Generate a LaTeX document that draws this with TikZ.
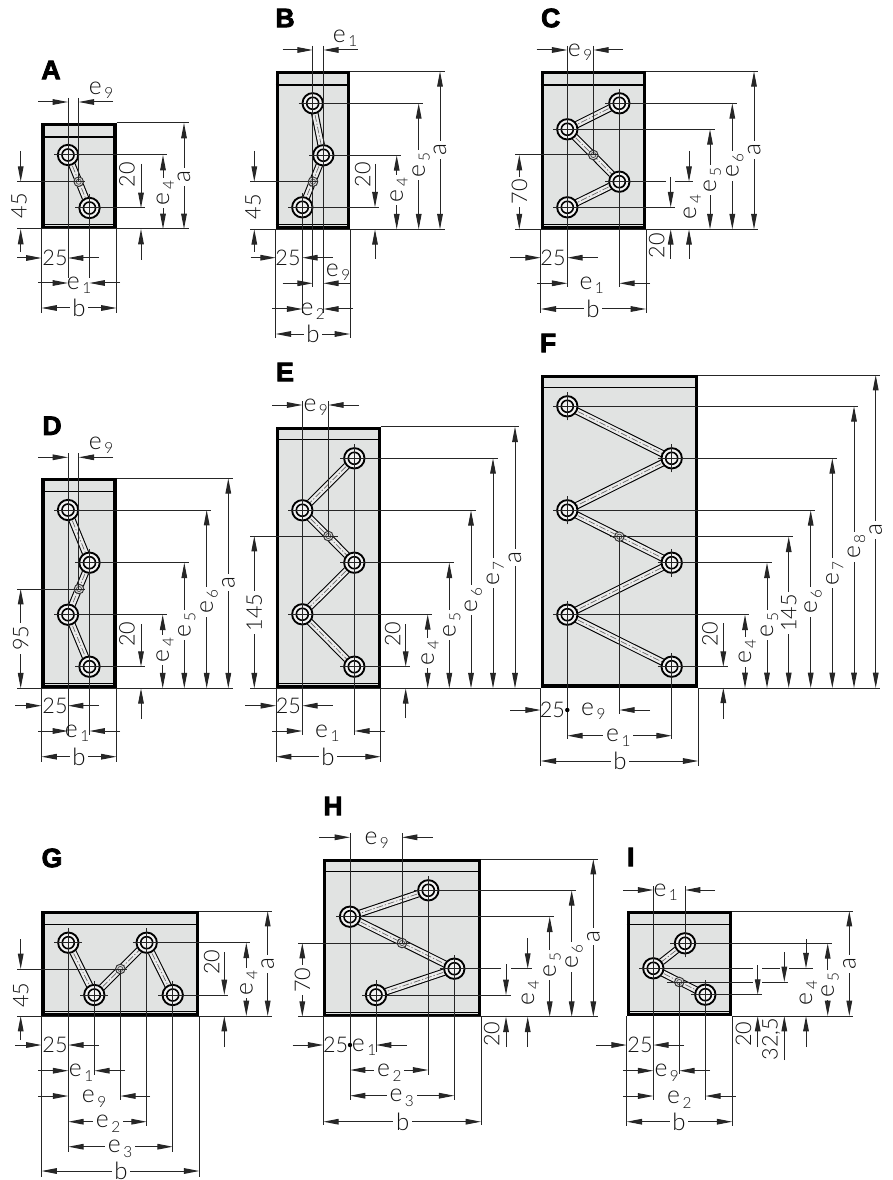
\documentclass[tikz,border=0pt]{standalone}
\usepackage{fontspec}
\setmainfont{Lato}[UprightFont=* Light]
\newfontfamily\panelfont{Liberation Sans}[BoldFeatures={FakeBold=3}]
\usetikzlibrary{arrows.meta}
\definecolor{platec}{HTML}{E1E3E2}
\definecolor{labc}{HTML}{111111}
\newcounter{lab}
\tikzset{
  thinl/.style={line width=0.75pt,draw=black!85},
  tipped/.style={-{Triangle[length=11.5pt,width=4.2pt]}},
  tippedb/.style={{Triangle[length=11.5pt,width=4.2pt]}-{Triangle[length=11.5pt,width=4.2pt]}},
  lbl/.style={font=\fontsize{16.2}{16.2}\selectfont,text=labc,inner sep=0pt,text depth=0pt},
  lblw/.style={lbl,fill=white,inner xsep=2pt,inner ysep=0pt},
  ptitle/.style={font=\fontsize{20}{20}\panelfont\bfseries,text=black,inner sep=0pt}
}
\newcommand\mkE[1]{{\fontsize{18.5}{18.5}\selectfont e}\kern.12em\smash{\raisebox{-.22em}{\fontsize{11.5}{11.5}\selectfont #1}}}
\newcommand\ltrA{{\fontsize{18.5}{18.5}\selectfont a}}
\newcommand\ltrB{{\fontsize{18}{18}\selectfont b}}
\newcommand\mkHL[3]{\draw[thinl] (#2,#1)--(#3,#1);}
\newcommand\mkVL[3]{\draw[thinl] (#1,#2)--(#1,#3);}
\newcommand\mkHA[3]{\draw[thinl,tipped] (#2,#1)--(#3,#1);}
\newcommand\mkVA[3]{\draw[thinl,tipped] (#1,#2)--(#1,#3);}
\newcommand\mkLH[3]{\stepcounter{lab}\node[lbl] (t\arabic{lab}) at (#1,#2) {#3};}
\newcommand\mkLV[3]{\stepcounter{lab}\node[lbl,rotate=90] (t\arabic{lab}) at (#1,#2) {#3};}
\newcommand\mkDH[5]{\draw[thinl,tippedb] (#2,#1)--(#3,#1);\stepcounter{lab}\node[lblw] (t\arabic{lab}) at (#4,#1) {#5};}
\newcommand\mkDV[5]{\draw[thinl,tippedb] (#1,#2)--(#1,#3);\stepcounter{lab}\node[lblw,rotate=90] (t\arabic{lab}) at (#1,#4) {#5};}
\newcommand\mkTitle[3]{\stepcounter{lab}\node[ptitle] (t\arabic{lab}) at (#1,#2) {#3};}
\newcommand\Plate[6]{% left top right bottom topline botline
  \fill[platec] (#1,#2) rectangle (#3,#4);
  \draw[line width=0.8pt] (#1,#5)--(#3,#5);
  \draw[line width=0.6pt] (#1,#6)--(#3,#6);
  \draw[line width=2.5pt] (#1+1.5,#2+1.5) rectangle (#3-1.5,#4-1.5);
}
\newcommand\Pt[3]{\coordinate (#1) at (#2,#3);}
\newcommand\Link[2]{%
  \draw[line width=5.6pt,black] (#1)--(#2);
  \draw[line width=4pt,white!92!black] (#1)--(#2);
  \draw[line width=0.5pt,black!60,dash pattern=on 5pt off 1.5pt on 1pt off 1.5pt] (#1)--(#2);
}
\newcommand\Hole[1]{%
  \fill[white!95!black] (#1) circle[radius=11];
  \draw[line width=1.4pt] (#1) circle[radius=10.2];
  \draw[line width=1.2pt] (#1) circle[radius=6];
  \draw[thinl] ([xshift=-10.5pt]#1)--([xshift=10.5pt]#1);
  \draw[thinl] ([yshift=-10.5pt]#1)--([yshift=10.5pt]#1);
}
\newcommand\SHole[1]{%
  \fill[white!85!black] (#1) circle[radius=5.2];
  \draw[line width=0.7pt,black!80] (#1) circle[radius=4.8];
  \draw[line width=0.5pt,black!70] (#1) circle[radius=2.6];
}
\begin{document}
\begin{tikzpicture}[x=0.75pt,y=-0.75pt]
\useasboundingbox (0,0) rectangle (892,1180);
\fill[white] (0,0) rectangle (892,1180);

% ---------- A
\mkTitle{51}{70}{A}
\Plate{41.5}{123}{116.5}{229}{137}{224}
\Pt{a1}{68}{155}\Pt{a2}{89.5}{208}\Pt{as}{78.7}{181.7}
\Link{a1}{a2}\Hole{a1}\Hole{a2}\SHole{as}
\mkVL{68}{98}{278}\mkVL{78.7}{98}{181.7}\mkVL{89.5}{195}{278}
\mkVL{41.5}{229}{313}\mkVL{116.5}{229}{313}
\mkHL{123}{116.5}{188.7}\mkHL{229}{17}{188.7}\mkHL{155}{54}{167}\mkHL{208}{75}{145}\mkHL{181.7}{17}{85}
\mkHA{102}{38}{68}\mkHA{102}{113}{78.7}\mkLH{101}{88}{\mkE{9}}
\mkDV{184}{123}{229}{177}{\ltrA}
\mkDV{163}{155}{229}{193}{\mkE{4}}
\mkVA{141}{164}{208}\mkVA{141}{260}{229}\mkLV{127}{175}{20}
\mkVA{20.7}{151}{181.7}\mkVA{20.7}{252}{229}\mkLV{19}{206}{45}
\mkHA{258}{17}{41.5}\mkHA{258}{99}{68}\mkLH{55}{258}{25}
\mkHA{283}{38}{68}\mkHA{283}{120}{89.5}\mkLH{79}{283}{\mkE{1}}
\mkDH{308}{41.5}{116.5}{79}{\ltrB}

% ---------- B
\mkTitle{285}{18}{B}
\Plate{275.7}{71.3}{350}{229.3}{85}{224}
\Pt{b1}{312.7}{103.3}\Pt{b2}{323.3}{155.3}\Pt{b3}{302.3}{207.3}\Pt{bs}{313}{181.7}
\Link{b1}{b2}\Link{b2}{b3}\Hole{b1}\Hole{b2}\Hole{b3}\SHole{bs}
\mkVL{312.7}{46}{287}\mkVL{323.3}{46}{313}\mkVL{302.3}{207.3}{313}
\mkVL{275.7}{229}{338}\mkVL{350}{229}{338}
\mkHA{50}{282.7}{312.7}\mkHA{50}{357.7}{323.3}\mkLH{345}{36}{\mkE{1}}
\mkHL{71.3}{350}{445}\mkHL{229.3}{250}{445}\mkHL{103.3}{299}{422.7}\mkHL{155.3}{309}{401}\mkHL{207.3}{289}{379}\mkHL{181.7}{250}{318}
\mkDV{440}{71.3}{229.3}{150}{\ltrA}
\mkDV{418.7}{103.3}{229.3}{165}{\mkE{5}}
\mkDV{396.7}{155.3}{229.3}{190}{\mkE{4}}
\mkVA{375}{164}{207.3}\mkVA{375}{259}{229.3}\mkLV{362.7}{175}{20}
\mkVA{254.3}{151}{181.7}\mkVA{254.3}{252}{229.3}\mkLV{253}{206.7}{45}
\mkHA{257.7}{250.7}{275.7}\mkHA{257.7}{332.7}{302.3}\mkLH{288}{257.7}{25}
\mkHA{283.3}{282.7}{312.7}\mkHA{283.3}{350}{323.3}\mkLH{338}{270}{\mkE{9}}
\mkHA{309}{272}{302.3}\mkHA{309}{353}{323.3}\mkLH{312.7}{309}{\mkE{2}}
\mkDH{334}{275.7}{350}{313}{\ltrB}

% ---------- C
\mkTitle{550.7}{18}{C}
\Plate{540.7}{71.3}{646}{229.3}{85}{224}
\Pt{c1}{619.3}{103.3}\Pt{c2}{567.3}{129.3}\Pt{c3}{619.3}{181.7}\Pt{c4}{567.3}{207.3}\Pt{cs}{593.3}{155}
\Link{c1}{c2}\Link{c2}{c3}\Link{c3}{c4}\Hole{c1}\Hole{c2}\Hole{c3}\Hole{c4}\SHole{cs}
\mkVL{567.3}{46}{287}\mkVL{593.3}{46}{155}\mkVL{619.3}{92}{287}
\mkVL{540.7}{229}{313}\mkVL{646}{229}{313}
\mkHA{50}{536.7}{567.3}\mkHA{50}{623}{593.3}\mkLH{580}{50}{\mkE{9}}
\mkHL{71.3}{646}{758.3}\mkHL{229.3}{515}{758.3}\mkHL{103.3}{610}{736.7}\mkHL{129.3}{553}{715}
\mkHL{181.7}{608}{666}\mkHL{181.7}{675}{693}\mkHL{207.3}{553}{675}\mkHL{155}{515}{598}
\mkDV{710}{129.3}{229.3}{180}{\mkE{5}}
\mkDV{732.3}{103.3}{229.3}{165.7}{\mkE{6}}
\mkDV{754}{71.3}{229.3}{150}{\ltrA}
\mkDV{519.3}{155}{229.3}{191.7}{70}
\mkVA{689}{151}{181.7}\mkVA{670.7}{177}{207.3}\mkLV{690}{207}{\mkE{4}}
\mkVA{670.7}{259}{229.3}\mkVA{689}{259}{229.3}\mkLV{656.7}{246}{20}
\mkHA{257.7}{510}{540.7}\mkHA{257.7}{597.7}{567.3}\mkLH{553}{257.7}{25}
\mkHA{283.3}{537.3}{567.3}\mkHA{283.3}{650}{619.3}\mkLH{591.7}{283}{\mkE{1}}
\mkDH{309}{540.7}{646}{593}{\ltrB}

% ---------- D
\mkTitle{52}{425.7}{D}
\Plate{41.5}{478.3}{116.5}{688.3}{491.7}{683.3}
\Pt{d1}{68}{510}\Pt{d2}{89.5}{562.7}\Pt{d3}{68}{614.7}\Pt{d4}{89.5}{666.7}\Pt{ds}{79}{589}
\Link{d1}{d2}\Link{d2}{d3}\Link{d3}{d4}\Hole{d1}\Hole{d2}\Hole{d3}\Hole{d4}\SHole{ds}
\mkVL{68}{453}{735}\mkVL{78.7}{453}{589}\mkVL{89.5}{550}{735}
\mkVL{41.5}{688}{761.7}\mkVL{116.5}{688}{761.7}
\mkHA{457.3}{38}{68}\mkHA{457.3}{113}{78.7}\mkLH{101}{443}{\mkE{9}}
\mkHL{478.3}{116.5}{232.7}\mkHL{688.3}{17}{232.7}\mkHL{510}{54}{211}\mkHL{562.7}{75}{188.7}\mkHL{614.7}{54}{166.7}\mkHL{666.7}{75}{145}\mkHL{589}{17}{85}
\mkDV{228.3}{478.3}{688.3}{582.7}{\ltrA}
\mkDV{206.7}{510}{688.3}{601.7}{\mkE{6}}
\mkDV{184.3}{562.7}{688.3}{625}{\mkE{5}}
\mkDV{162.7}{614.7}{688.3}{650}{\mkE{4}}
\mkVA{141}{624}{666.7}\mkVA{141}{719}{688.3}\mkLV{127}{634}{20}
\mkDV{20.7}{589}{688.3}{638.3}{95}
\mkHA{705.7}{15}{41.5}\mkHA{705.7}{99}{68}\mkLH{55}{705.7}{25}
\mkHA{731}{38}{68}\mkHA{731}{120}{89.5}\mkLH{77}{731}{\mkE{1}}
\mkDH{756.7}{41.5}{116.5}{79}{\ltrB}

% ---------- E
\mkTitle{285}{372}{E}
\Plate{276}{426.7}{380.7}{688.3}{439.3}{683.3}
\Pt{e1}{354.3}{458.3}\Pt{e2}{302.3}{510.3}\Pt{e3}{354.3}{562.7}\Pt{e4}{302.3}{614.3}\Pt{e5}{354.3}{666.7}\Pt{es}{328.3}{536}
\Link{e1}{e2}\Link{e2}{e3}\Link{e3}{e4}\Link{e4}{e5}\Hole{e1}\Hole{e2}\Hole{e3}\Hole{e4}\Hole{e5}\SHole{es}
\mkVL{302.3}{401}{735}\mkVL{328.3}{401}{536}\mkVL{354.3}{444}{735}
\mkVL{276}{688}{761.7}\mkVL{380.7}{688}{761.7}
\mkHA{405}{272.3}{302.3}\mkHA{405}{359}{328.3}\mkLH{315.7}{405}{\mkE{9}}
\mkHL{426.7}{380.7}{519}\mkHL{688.3}{250}{540.7}\mkHL{536}{250}{338}\mkHL{458.3}{340}{497.7}\mkHL{510.3}{288}{476}\mkHL{562.7}{340}{454}\mkHL{614.3}{288}{432.3}\mkHL{666.7}{340}{410}
\mkDV{254.3}{536}{688.3}{612.7}{145}
\mkDV{515}{426.7}{688.3}{557.3}{\ltrA}
\mkDV{493}{458.3}{688.3}{573.3}{\mkE{7}}
\mkDV{471}{510.3}{688.3}{600}{\mkE{6}}
\mkDV{449.3}{562.7}{688.3}{625}{\mkE{5}}
\mkDV{427.7}{614.3}{688.3}{653}{\mkE{4}}
\mkVA{405.7}{624}{666.7}\mkVA{405.7}{718}{688.3}\mkLV{392.7}{634}{20}
\mkHA{705.7}{245}{276}\mkHA{705.7}{332.7}{302.3}\mkLH{288.3}{705.7}{25}
\mkHA{731}{272.3}{302.3}\mkHA{731}{385}{354.3}\mkLH{327.3}{731}{\mkE{1}}
\mkDH{756.7}{276}{380.7}{328}{\ltrB}

% ---------- F
\mkTitle{548}{343}{F}
\Plate{540.7}{375}{698.3}{687.7}{387.7}{684}
\Pt{f1}{567.3}{406.3}\Pt{f2}{671.7}{458.3}\Pt{f3}{567.3}{510.3}\Pt{f4}{671.7}{562.7}\Pt{f5}{567.3}{614.7}\Pt{f6}{671.7}{666.7}\Pt{fs}{619.3}{536.7}
\Link{f1}{f2}\Link{f2}{f3}\Link{f3}{f4}\Link{f4}{f5}\Link{f5}{f6}\Hole{f1}\Hole{f2}\Hole{f3}\Hole{f4}\Hole{f5}\Hole{f6}\SHole{fs}
\mkVL{567.3}{614}{739}\mkVL{619.3}{536.7}{714}\mkVL{671.7}{666}{739}
\mkVL{540.7}{688}{765.7}\mkVL{698.3}{688}{765.7}
\mkHL{375}{698.3}{880}\mkHL{688}{698.3}{880}\mkHL{406.3}{553}{858.3}\mkHL{458.3}{660}{836.7}\mkHL{510.3}{553}{815}\mkHL{536.7}{610}{793.3}\mkHL{562.7}{660}{771.7}\mkHL{614.7}{553}{749.3}\mkHL{666.7}{660}{727.7}
\mkDV{875.7}{375}{688}{530}{\ltrA}
\mkDV{854}{406.3}{688}{546.7}{\mkE{8}}
\mkDV{832.3}{458.3}{688}{573.3}{\mkE{7}}
\mkDV{810.7}{510.3}{688}{601.7}{\mkE{6}}
\mkDV{788.7}{536.7}{688}{613}{145}
\mkDV{767}{562.7}{688}{625}{\mkE{5}}
\mkDV{745}{614.7}{688}{651.7}{\mkE{4}}
\mkVA{723.3}{623}{666.7}\mkVA{723.3}{719}{687.7}\mkLV{710}{634}{20}
\mkHA{710}{510}{540.7}\mkHA{710}{650}{619.3}\mkLH{552.3}{710}{25}\mkLH{593.3}{709}{\mkE{9}}
\fill (567.3,710) circle[radius=2.2];
\mkDH{735.7}{567.3}{671.7}{618.3}{\mkE{1}}
\mkDH{761}{540.7}{698.3}{620}{\ltrB}

% ---------- G
\mkTitle{52}{858}{G}
\Plate{41.5}{911}{199.3}{1016}{924.3}{1011.7}
\Pt{g1}{68.3}{942.7}\Pt{g2}{94.3}{995}\Pt{g3}{146.7}{942.7}\Pt{g4}{172.7}{995}\Pt{gs}{120.3}{969}
\Link{g1}{g2}\Link{g2}{g3}\Link{g3}{g4}\Hole{g1}\Hole{g2}\Hole{g3}\Hole{g4}\SHole{gs}
\mkVL{68.3}{928}{1151.7}\mkVL{94.3}{985}{1075}\mkVL{120.3}{969}{1100}\mkVL{146.7}{928}{1126}\mkVL{172.7}{985}{1151.7}
\mkVL{41.5}{1016}{1177}\mkVL{199.3}{1016}{1177}
\mkHL{911}{199.3}{272.3}\mkHL{1016}{17}{272.3}\mkHL{942.7}{54}{82}\mkHL{942.7}{133}{250}\mkHL{995}{80}{108}\mkHL{995}{158}{228.3}\mkHL{969}{17}{127}
\mkDV{267.7}{911}{1016}{964}{\ltrA}
\mkDV{246.3}{942.7}{1016}{983}{\mkE{4}}
\mkVA{224.3}{952}{995}\mkVA{224.3}{1047}{1016}\mkLV{211.7}{962}{20}
\mkVA{20.7}{939}{969}\mkVA{20.7}{1040}{1016}\mkLV{20.7}{995}{45}
\mkHA{1045}{15}{41.5}\mkHA{1045}{99}{68.3}\mkLH{55}{1045}{25}
\mkHA{1070.7}{38}{68.3}\mkHA{1070.7}{125}{94.3}\mkLH{81}{1070.7}{\mkE{1}}
\mkHA{1096}{38}{68.3}\mkHA{1096}{150}{120.3}\mkLH{94}{1096}{\mkE{9}}
\mkDH{1121.7}{68.3}{146.7}{108}{\mkE{2}}
\mkDH{1146.7}{68.3}{172.7}{120}{\mkE{3}}
\mkDH{1171}{41.5}{199.3}{121}{\ltrB}

% ---------- H
\mkTitle{333}{806}{H}
\Plate{323.3}{859}{481}{1016.7}{871.7}{1012.3}
\Pt{h1}{428.3}{890.3}\Pt{h2}{350}{916.7}\Pt{h3}{454.3}{968.7}\Pt{h4}{376}{995}\Pt{hs}{402}{943}
\Link{h1}{h2}\Link{h2}{h3}\Link{h3}{h4}\Hole{h1}\Hole{h2}\Hole{h3}\Hole{h4}\SHole{hs}
\mkVL{350}{833}{1100}\mkVL{402}{833}{943}\mkVL{376}{980}{1051.7}\mkVL{428.3}{877}{1075}\mkVL{454.3}{955}{1100}
\mkVL{323.3}{1016.7}{1125}\mkVL{481}{1016.7}{1125}
\mkHA{837.3}{319.3}{350}\mkHA{837.3}{432.7}{402}\mkLH{376.7}{838}{\mkE{9}}
\mkHL{859}{481}{598}\mkHL{1016.7}{298}{598}\mkHL{890.3}{415}{576}\mkHL{916.7}{336}{554}
\mkHL{968.7}{440}{501}\mkHL{968.7}{511}{532.3}\mkHL{995}{362}{510.7}\mkHL{943}{298}{412}
\mkDV{593.3}{859}{1016.7}{936.7}{\ltrA}
\mkDV{571.7}{890.3}{1016.7}{956.7}{\mkE{6}}
\mkDV{549.7}{916.7}{1016.7}{965}{\mkE{5}}
\mkVA{527.7}{938}{968.7}\mkVA{506}{964}{995}\mkLV{528}{993}{\mkE{4}}
\mkVA{506}{1047}{1016.7}\mkVA{527.7}{1047}{1016.7}\mkLV{491.7}{1034}{20}
\mkDV{302.3}{943}{1016.7}{980}{70}
\mkHA{1045}{292.7}{323.3}\mkHA{1045}{406.7}{376}\mkLH{335.7}{1045}{25}\mkLH{364}{1045}{\mkE{1}}
\fill (350,1045) circle[radius=2.2];
\mkDH{1070}{350}{428.3}{389.3}{\mkE{2}}
\mkDH{1095.7}{350}{454.3}{401.7}{\mkE{3}}
\mkDH{1121.7}{323.3}{481}{402.7}{\ltrB}

% ---------- I
\mkTitle{630.7}{857}{I}
\Plate{626.7}{911}{732.3}{1016}{924.3}{1011.7}
\Pt{i1}{685}{943.3}\Pt{i2}{653.3}{968.3}\Pt{i3}{705.3}{994.7}\Pt{is}{679.3}{982}
\Link{i1}{i2}\Link{i2}{i3}\Hole{i1}\Hole{i2}\Hole{i3}\SHole{is}
\mkVL{653.3}{886}{1100}\mkVL{685}{886}{956}\mkVL{679.3}{982}{1074}\mkVL{705.3}{980}{1100}
\mkVL{626.7}{1016}{1126}\mkVL{732.3}{1016}{1126}
\mkHA{890}{623.3}{653.3}\mkHA{890}{715}{685}\mkLH{665.7}{890}{\mkE{1}}
\mkHL{911}{732.3}{853.3}\mkHL{1016}{732.3}{853.3}\mkHL{943.3}{670}{831.7}
\mkHL{968.3}{640}{753}\mkHL{968.3}{762}{780}\mkHL{968.3}{789}{812.7}
\mkHL{982}{667}{753}\mkHL{982}{762}{788}\mkHL{994.7}{717}{762}
\mkVA{806}{939}{968.3}\mkVA{784.3}{952}{982}\mkVA{757.7}{965}{994.7}
\mkDV{827.7}{943.3}{1016}{985}{\mkE{5}}
\mkDV{849.3}{911}{1016}{964}{\ltrA}
\mkLV{806}{993}{\mkE{4}}
\mkVA{806}{1047}{1016}\mkVA{757.7}{1047}{1016}\mkLV{743.3}{1034}{20}
\mkVA{784.3}{1060}{1016}\mkLV{770}{1039}{32,5}
\mkHA{1045}{596}{626.7}\mkHA{1045}{684}{653.3}\mkLH{640}{1045}{25}
\mkHA{1070.7}{623.3}{653.3}\mkHA{1070.7}{710}{679.3}\mkLH{666.7}{1070}{\mkE{9}}
\mkHA{1096}{623.3}{653.3}\mkHA{1096}{735.7}{705.3}\mkLH{679.3}{1097}{\mkE{2}}
\mkDH{1121.7}{626.7}{732.3}{679}{\ltrB}
\end{tikzpicture}
\end{document}
